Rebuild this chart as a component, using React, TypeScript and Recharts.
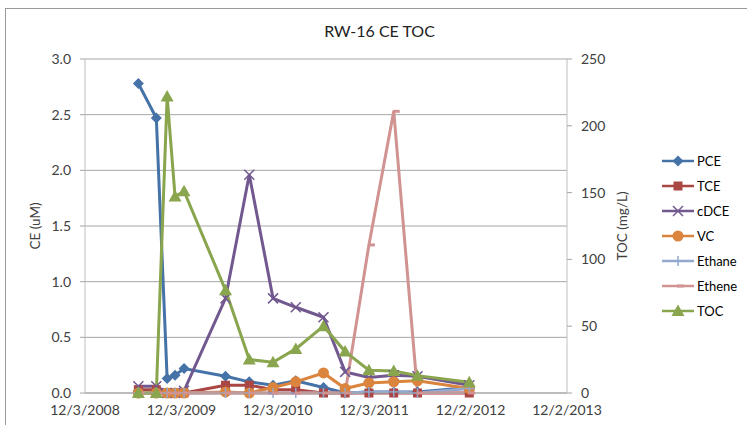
import React from "react";
import { LineChart, Line, XAxis, YAxis, CartesianGrid, Legend } from "recharts";

const tickDates = ["2008-12-03", "2009-12-03", "2010-12-03", "2011-12-03", "2012-12-02", "2013-12-02"];
const sampleDates = [
  "2009-06-23", "2009-08-30", "2009-10-10", "2009-11-09", "2009-12-13",
  "2010-05-19", "2010-08-17", "2010-11-15", "2011-02-09", "2011-05-25",
  "2011-08-15", "2011-11-13", "2012-02-15", "2012-05-15", "2012-11-27",
];
const pce = [2.78, 2.47, 0.13, 0.16, 0.22, 0.15, 0.1, 0.07, 0.11, 0.05, 0.0, 0.01, 0.01, 0.01, 0.05];
const tce = [0.03, 0.03, 0.0, 0.0, 0.0, 0.07, 0.07, 0.03, 0.03, 0.0, 0.0, 0.0, 0.0, 0.0, 0.0];
const cdce = [0.06, 0.06, 0.0, 0.0, 0.02, 0.85, 1.96, 0.85, 0.77, 0.68, 0.19, 0.14, 0.16, 0.15, 0.07];
const vc = [0.0, 0.0, 0.0, 0.0, 0.0, 0.01, 0.0, 0.05, 0.1, 0.18, 0.04, 0.09, 0.1, 0.11, 0.04];
const ethane = [0.0, 0.0, 0.0, 0.0, 0.0, 0.0, 0.0, 0.0, 0.0, 0.0, 0.0, 0.01, 0.01, 0.0, 0.04];
const ethene = [0.0, 0.0, 0.0, 0.0, 0.0, 0.0, 0.0, 0.0, 0.0, 0.0, 0.0, 1.33, 2.53, 0.0, 0.0];
const toc = [0, 0, 222, 147, 151, 77, 25, 23, 33, 50, 31, 17, 16.5, 13, 8];

const leftTicks = [0, 0.5, 1, 1.5, 2, 2.5, 3];
const rightTicks = [0, 50, 100, 150, 200, 250];

const toTs = (s: string) => Date.parse(s + "T00:00:00Z");
const xTicks = tickDates.map(toTs);

const data = sampleDates.map((d, i) => ({
  t: toTs(d),
  PCE: pce[i],
  TCE: tce[i],
  cDCE: cdce[i],
  VC: vc[i],
  Ethane: ethane[i],
  Ethene: ethene[i],
  TOC: toc[i],
}));

const fmtDate = (v: number) => {
  const d = new Date(v);
  return `${d.getUTCMonth() + 1}/${d.getUTCDate()}/${d.getUTCFullYear()}`;
};

type Shape = "diamond" | "square" | "x" | "circle" | "plus" | "dash" | "triangle";

const series: { key: string; color: string; shape: Shape; axis: string }[] = [
  { key: "PCE", color: "#4572A7", shape: "diamond", axis: "left" },
  { key: "TCE", color: "#AA4643", shape: "square", axis: "left" },
  { key: "cDCE", color: "#71588F", shape: "x", axis: "left" },
  { key: "VC", color: "#DB843D", shape: "circle", axis: "left" },
  { key: "Ethane", color: "#93A9CF", shape: "plus", axis: "left" },
  { key: "Ethene", color: "#D19392", shape: "dash", axis: "left" },
  { key: "TOC", color: "#89A54E", shape: "triangle", axis: "right" },
];

const Marker = ({ shape, color, cx, cy }: { shape: Shape; color: string; cx: number; cy: number }) => {
  switch (shape) {
    case "diamond":
      return <polygon points={`${cx},${cy - 5.5} ${cx + 5.5},${cy} ${cx},${cy + 5.5} ${cx - 5.5},${cy}`} fill={color} />;
    case "square":
      return <rect x={cx - 4.5} y={cy - 4.5} width={9} height={9} fill={color} />;
    case "x":
      return (
        <g stroke={color} strokeWidth={1.5}>
          <line x1={cx - 5} y1={cy - 5} x2={cx + 5} y2={cy + 5} />
          <line x1={cx - 5} y1={cy + 5} x2={cx + 5} y2={cy - 5} />
        </g>
      );
    case "circle":
      return <circle cx={cx} cy={cy} r={5.5} fill={color} />;
    case "plus":
      return (
        <g stroke={color} strokeWidth={1.5}>
          <line x1={cx - 5} y1={cy} x2={cx + 5} y2={cy} />
          <line x1={cx} y1={cy - 5} x2={cx} y2={cy + 5} />
        </g>
      );
    case "dash":
      return <line x1={cx - 1} y1={cy} x2={cx + 6} y2={cy} stroke={color} strokeWidth={3} />;
    case "triangle":
      return <polygon points={`${cx},${cy - 6.5} ${cx + 6.5},${cy + 5} ${cx - 6.5},${cy + 5}`} fill={color} />;
  }
  return null;
};

const makeDot = (shape: Shape, color: string) => (props: any) => {
  const { cx, cy, index } = props;
  if (cx == null || cy == null) return <g key={`d${index}`} />;
  return (
    <g key={`d${index}`}>
      <Marker shape={shape} color={color} cx={cx} cy={cy} />
    </g>
  );
};

const FONT = "Lato, 'Open Sans', sans-serif";

const LegendContent = () => (
  <div style={{ fontFamily: FONT, fontSize: 13, color: "#000" }}>
    {series.map((s) => (
      <div key={s.key} style={{ display: "flex", alignItems: "center", height: 25 }}>
        <svg width={32} height={14} style={{ display: "block" }}>
          <line x1={0} y1={7} x2={32} y2={7} stroke={s.color} strokeWidth={2.5} />
          <Marker shape={s.shape} color={s.color} cx={16} cy={7} />
        </svg>
        <span style={{ marginLeft: 3 }}>{s.key}</span>
      </div>
    ))}
  </div>
);

const LeftTitle = (props: any) => {
  const vb = props.viewBox || {};
  const x = vb.x + 35;
  const y = vb.y + vb.height / 2;
  return (
    <text x={x} y={y} transform={`rotate(-90 ${x} ${y})`} textAnchor="middle" dominantBaseline="central" fontSize={13.5} fontFamily={FONT} fill="#404040">
      CE (uM)
    </text>
  );
};

const RightTitle = (props: any) => {
  const vb = props.viewBox || {};
  const x = vb.x + 55;
  const y = vb.y + vb.height / 2;
  return (
    <text x={x} y={y} transform={`rotate(-90 ${x} ${y})`} textAnchor="middle" dominantBaseline="central" fontSize={13.5} fontFamily={FONT} fill="#404040">
      TOC (mg/L)
    </text>
  );
};

export default function App() {
  const tickStyle = { fontSize: 14, fontFamily: FONT, fill: "#404040" };
  return (
    <div style={{ position: "absolute", left: 0, top: 0, width: 747, height: 425, overflow: "hidden", background: "#fff" }}>
      <div style={{ position: "absolute", left: 5, top: 8, width: 800, height: 500, border: "1.5px solid #9a9a9a", boxSizing: "border-box" }} />
      <div style={{ position: "absolute", left: 0, top: 21, width: 747, textAlign: "center", fontFamily: FONT, fontSize: 16, color: "#222" }}>
        <span style={{ marginLeft: 12 }}>RW-16 CE TOC</span>
      </div>
      <div style={{ position: "absolute", left: 0, top: 0 }}>
        <LineChart width={747} height={425} data={data} margin={{ top: 59, right: 20, bottom: 2, left: 0 }}>
          <CartesianGrid yAxisId="left" horizontal={true} vertical={false} stroke="#a6a6a6" strokeWidth={1} />
          <XAxis
            dataKey="t"
            type="number"
            domain={[xTicks[0], xTicks[xTicks.length - 1]]}
            ticks={xTicks}
            tickFormatter={fmtDate}
            height={30}
            tickLine={false}
            tickSize={5}
            tickMargin={7}
            axisLine={{ stroke: "#a6a6a6" }}
            tick={tickStyle}
            interval={0}
          />
          <YAxis
            yAxisId="left"
            orientation="left"
            width={85}
            domain={[0, 3]}
            ticks={leftTicks}
            tickFormatter={(v: number) => v.toFixed(1)}
            tick={tickStyle}
            tickSize={5}
            tickMargin={9}
            axisLine={{ stroke: "#bfbfbf" }}
            tickLine={{ stroke: "#a6a6a6" }}
            label={<LeftTitle />}
            interval={0}
          />
          <YAxis
            yAxisId="right"
            orientation="right"
            width={75}
            domain={[0, 250]}
            ticks={rightTicks}
            tick={tickStyle}
            tickSize={5}
            tickMargin={9}
            axisLine={{ stroke: "#bfbfbf" }}
            tickLine={{ stroke: "#a6a6a6" }}
            label={<RightTitle />}
            interval={0}
          />
          <Legend
            layout="horizontal"
            verticalAlign="middle"
            align="right"
            wrapperStyle={{ left: 662, top: 148, width: 85 }}
            content={<LegendContent />}
          />
          {series.map((s) => (
            <Line
              key={s.key}
              yAxisId={s.axis}
              dataKey={s.key}
              name={s.key}
              type="linear"
              stroke={s.color}
              strokeWidth={3}
              dot={makeDot(s.shape, s.color)}
              activeDot={false}
              isAnimationActive={false}
            />
          ))}
        </LineChart>
      </div>
    </div>
  );
}
